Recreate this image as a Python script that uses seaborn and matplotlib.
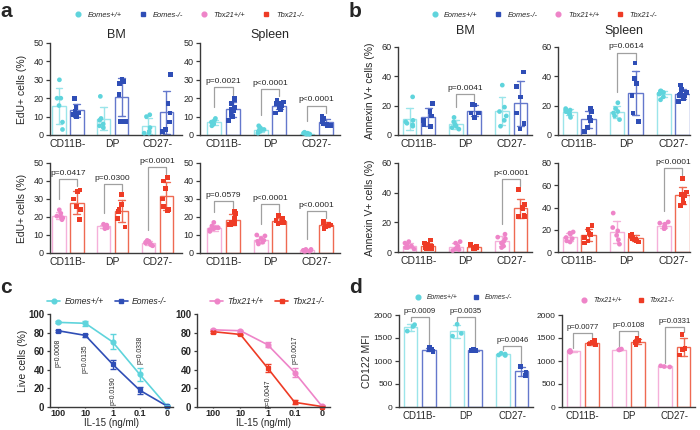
import numpy as np
import pandas as pd

import matplotlib
matplotlib.use('Agg')
import matplotlib.pyplot as plt
from matplotlib.lines import Line2D

import seaborn as sns

sns.set_style('ticks')
plt.rcParams['font.family'] = ['Liberation Sans', 'DejaVu Sans']
np.random.seed(3)

pops = ['CD11B-', 'DP', 'CD27-']
eomes = ['Eomes+/+', 'Eomes-/-']
tbx21 = ['Tbx21+/+', 'Tbx21-/-']

# a: EdU+ cells (%) per mouse
edu_bm_eomes_wt = [[30, 20, 20, 16, 7, 3], [21, 9, 8, 6, 5, 4], [11, 10, 4, 2, 1, 1]]
edu_bm_eomes_ko = [[20, 15, 13, 12, 10, 11], [30, 29, 28, 22, 7.5, 7.5], [33, 17, 12, 7, 3, 2]]
edu_sp_eomes_wt = [[9, 8, 7, 7, 6, 6, 5], [5, 4, 3, 3, 2, 2, 2, 1], [1.5, 1, 1, 0.5, 0.5, 0.5, 0.5]]
edu_sp_eomes_ko = [[20, 19, 17, 15, 14, 13, 11, 10, 8], [19, 18, 17, 17, 16, 16, 15, 14, 12],
                   [10, 9, 8, 7, 7, 6, 6, 5, 5]]
edu_bm_tbx_wt = [[24, 22, 20.5, 19.5, 18.5, 20], [16, 15.5, 15, 14.5, 14, 13.5], [7, 6.5, 6, 5.5, 5, 4.5, 4]]
edu_bm_tbx_ko = [[35, 34, 30, 26, 24, 18.5], [32.5, 27, 24, 23, 19, 14.5], [42, 40, 36, 30, 26, 24, 23.5]]
edu_sp_tbx_wt = [[17, 15, 14, 14, 13.5, 13, 12], [10, 9.5, 8, 7, 6.5, 5, 6], [2, 2, 1.5, 1.5, 1, 1, 1]]
edu_sp_tbx_ko = [[23, 22, 19, 17, 16.5, 16, 16], [21, 19, 18, 17.5, 17, 17, 16.5],
                 [17.5, 17, 16, 15.5, 15, 14.5, 13.5]]
p_edu_bm_eomes = [None, None, None]
p_edu_sp_eomes = ['p=0.0021', 'p<0.0001', 'p<0.0001']
p_edu_bm_tbx = ['p=0.0417', 'p=0.0300', 'p<0.0001']
p_edu_sp_tbx = ['p=0.0579', 'p<0.0001', 'p<0.0001']

# b: Annexin V+ cells (%) per mouse
ann_bm_eomes_wt = [[26, 10, 9, 8, 7, 6], [12, 9, 7, 6, 5, 4], [34, 19, 16, 13, 10, 6]]
ann_bm_eomes_ko = [[21.5, 16, 13, 10, 7, 6], [21, 20.5, 15, 15, 12], [43, 33, 26, 15, 8, 4]]
ann_sp_eomes_wt = [[18, 17, 17, 16, 16, 15, 14, 12], [22, 18, 16, 15, 13, 10.5], [30, 30, 29, 29, 28, 28, 26, 24]]
ann_sp_eomes_ko = [[18, 16, 12, 10, 5, 2.5], [49, 38.5, 35, 27, 15, 9], [34, 31, 29, 28, 27, 27, 26, 25, 23]]
ann_bm_tbx_wt = [[7, 6, 5, 4, 3, 3, 2], [7, 6, 4, 3, 2, 1.5, 1], [12, 10, 9, 7, 6, 4, 3]]
ann_bm_tbx_ko = [[8, 6, 5, 4, 4, 3, 3, 2, 2], [5, 4, 3, 3, 2.5, 2, 2], [42, 32, 30, 29, 25, 24, 24]]
ann_sp_tbx_wt = [[18, 17, 16, 13, 12, 10, 9], [35, 22, 19, 15, 11, 7], [27, 26, 25, 23, 22, 21, 21]]
ann_sp_tbx_ko = [[24, 20, 17, 16, 13, 10, 8], [16, 15, 13, 12, 11, 10, 9], [66, 54, 52, 51, 47, 44, 42]]
p_ann_bm_eomes = [None, 'p=0.0041', None]
p_ann_sp_eomes = [None, 'p=0.0614', None]
p_ann_bm_tbx = [None, None, 'p<0.0001']
p_ann_sp_tbx = [None, None, 'p<0.0001']

# c: live cells (%) vs IL-15, mean and error
il15 = ['100', '10', '1', '0.1', '0']
live_eomes_wt = [91, 90, 70, 35, 1]
err_eomes_wt = [1, 3, 8, 7, 1]
live_eomes_ko = [82, 77, 46, 18, 1]
err_eomes_ko = [1, 2, 5, 4, 0.5]
live_tbx_wt = [83, 82, 67, 37, 1]
err_tbx_wt = [1, 1, 3, 5, 1]
live_tbx_ko = [81, 78, 42, 5, 0.5]
err_tbx_ko = [1, 1, 4, 2, 0.5]
p_live_eomes = ['p=0.0008', 'p=0.0135', 'p=0.0190', 'p=0.0338', None]
p_live_tbx = [None, None, 'p=0.0047', 'p=0.0017', None]

# d: CD122 MFI per mouse
cd122_eomes_wt = [[1790, 1750, 1650], [1800, 1600, 1540], [1170, 1150, 1130, 1120]]
cd122_eomes_ko = [[1290, 1260, 1240, 1210], [1250, 1240, 1230, 1220], [880, 760, 680]]
cd122_tbx_wt = [[1230, 1210, 1190, 1200], [1260, 1250, 1245, 1240], [895, 880, 870]]
cd122_tbx_ko = [[1440, 1400, 1370, 1350], [1490, 1440, 1400, 1360], [1580, 1250, 1130, 1270]]
p_cd122_eomes = ['p=0.0009', 'p=0.0035', 'p=0.0046']
p_cd122_tbx = ['p=0.0077', 'p=0.0108', 'p=0.0331']

pt_colors = {'Eomes+/+': '#5fd4dc', 'Eomes-/-': '#2f4eb6', 'Tbx21+/+': '#ee84c8', 'Tbx21-/-': '#ee3b25'}
bar_colors = {'Eomes+/+': '#9be5ea', 'Eomes-/-': '#6478cc', 'Tbx21+/+': '#f5b0da', 'Tbx21-/-': '#ef6a52'}
bracket_col = '#a0a0a0'
spine_col = '#3a3a3a'

W, H = 700, 430
fig = plt.figure(figsize=(7, 4.3), dpi=100)


def px_axes(x0, y0, x1, y1):
    return fig.add_axes([x0 / W, 1 - y1 / H, (x1 - x0) / W, (y1 - y0) / H])


def style_spines(ax):
    sns.despine(ax=ax)
    for s in ['left', 'bottom']:
        ax.spines[s].set_color(spine_col)
        ax.spines[s].set_linewidth(1.0)


def long_table(wt, ko, genos):
    rows = []
    for g, groups in zip(genos, (wt, ko)):
        for pop, vals in zip(pops, groups):
            for v in vals:
                rows.append((pop, g, v))
    return pd.DataFrame(rows, columns=['pop', 'geno', 'val'])


def bar_panel(box, wt, ko, genos, ymax, step, pvals, pads, xlim=(-0.45, 2.45),
              ylabel=None, title=None, tpad=4, xfs=7.5, yfs=6.5, pfs=6, lab_dx=23):
    ax = px_axes(*box)
    df = long_table(wt, ko, genos)
    sns.barplot(data=df, x='pop', y='val', hue='geno', order=pops, hue_order=genos,
                palette=bar_colors, fill=False, errorbar='sd', capsize=0.3, width=0.8, gap=0.25,
                linewidth=1.0, err_kws={'linewidth': 1.0}, legend=False, ax=ax)
    for g, m in zip(genos, ['o', 's']):
        sns.stripplot(data=df[df.geno == g], x='pop', y='val', hue='geno', order=pops, hue_order=genos,
                      palette=pt_colors, dodge=True, jitter=0.2, marker=m, size=3.4, linewidth=0,
                      legend=False, zorder=3, clip_on=False, ax=ax)

    lpad, rpad, toppad = [p * ymax for p in pads]
    for i, p in enumerate(pvals):
        if p is None:
            continue
        tops = []
        for vals in (wt[i], ko[i]):
            v = np.asarray(vals, float)
            tops.append(max(v.max(), v.mean() + v.std(ddof=1)))
        left = tops[0] + lpad
        right = tops[1] + rpad
        level = max(left, right) + toppad
        ax.plot([i - 0.2, i - 0.2, i + 0.2, i + 0.2], [left, level, level, right],
                color=bracket_col, lw=0.9, clip_on=False)
        ax.annotate(p, (i, level), xytext=(0, 1.5), textcoords='offset points',
                    ha='center', va='bottom', fontsize=pfs, annotation_clip=False)

    ax.set_xlim(*xlim)
    ax.set_ylim(0, ymax)
    ax.set_yticks(np.arange(0, ymax + 1, step))
    ax.set_xlabel('')
    ax.set_ylabel('')
    style_spines(ax)
    ax.tick_params(axis='x', length=0, labelsize=xfs, pad=3)
    ax.tick_params(axis='y', length=3, width=0.9, color=spine_col, labelsize=yfs, pad=1.5)
    if ylabel:
        ax.set_ylabel(ylabel, fontsize=7.5)
        ax.yaxis.set_label_coords(-lab_dx / (box[2] - box[0]), 0.5)
    if title:
        ax.set_title(title, fontsize=9, pad=tpad)
    return ax


def live_panel(box, wt, wt_err, ko, ko_err, genos, pvals, xlim, ylabel=None):
    ax = px_axes(*box)
    n = len(il15)
    df = pd.DataFrame({'dose': il15 * 2, 'live': wt + ko, 'geno': [genos[0]] * n + [genos[1]] * n})
    sns.pointplot(data=df, x='dose', y='live', hue='geno', order=il15, hue_order=genos,
                  palette=pt_colors, markers=['o', 's'], linestyles='-', errorbar=None,
                  markersize=3.5, linewidth=1.2, legend=False, ax=ax)
    pos = np.arange(n)
    for g, m, e in zip(genos, (wt, ko), (wt_err, ko_err)):
        ax.errorbar(pos, m, yerr=e, fmt='none', ecolor=pt_colors[g], elinewidth=1,
                    capsize=2.5, capthick=1, clip_on=False)
    for line in ax.lines:
        line.set_clip_on(False)

    for i, p in enumerate(pvals):
        if p is None:
            continue
        low = min(wt[i] - wt_err[i], ko[i] - ko_err[i])
        high = max(wt[i] + wt_err[i], ko[i] + ko_err[i])
        if low - 8 - 28 >= 0:
            ax.text(i, low - 8, p, rotation=90, ha='center', va='top', fontsize=4.9)
        else:
            ax.text(i, high + 4, p, rotation=90, ha='center', va='bottom', fontsize=4.9)

    ax.set_xlim(*xlim)
    ax.set_ylim(0, 100)
    ax.set_yticks(np.arange(0, 101, 20))
    ax.set_ylabel('')
    style_spines(ax)
    ax.tick_params(axis='x', length=1, width=0.9, color=spine_col, labelsize=6.5, pad=0.5)
    ax.tick_params(axis='y', length=2.5, width=0.9, color=spine_col, labelsize=7, pad=1.5)
    for lab in ax.get_xticklabels() + ax.get_yticklabels():
        lab.set_fontweight('bold')
    ax.set_xlabel('IL-15 (ng/ml)', fontsize=7)
    ax.xaxis.set_label_coords(0.5, -0.118)
    if ylabel:
        ax.set_ylabel(ylabel, fontsize=7.5)
        ax.yaxis.set_label_coords(-22 / (box[2] - box[0]), 0.5)
    return ax


ab_pads = (0.12, 0.04, 0.08)
d_pads = (0.03, 0.03, 0.05)

# a
bar_panel((50, 43, 182, 135), edu_bm_eomes_wt, edu_bm_eomes_ko, eomes, 50, 10, p_edu_bm_eomes, ab_pads,
          xlim=(-0.4, 2.55), ylabel='EdU+ cells (%)', title='BM', tpad=3.8)
bar_panel((200, 43, 340, 135), edu_sp_eomes_wt, edu_sp_eomes_ko, eomes, 50, 10, p_edu_sp_eomes, ab_pads,
          xlim=(-0.5, 2.5), title='Spleen', tpad=3.8)
bar_panel((50, 163, 182, 253), edu_bm_tbx_wt, edu_bm_tbx_ko, tbx21, 50, 10, p_edu_bm_tbx, ab_pads,
          xlim=(-0.4, 2.55), ylabel='EdU+ cells (%)')
bar_panel((200, 163, 340, 253), edu_sp_tbx_wt, edu_sp_tbx_ko, tbx21, 50, 10, p_edu_sp_tbx, ab_pads,
          xlim=(-0.5, 2.5))

# b
bar_panel((398, 47, 532, 135), ann_bm_eomes_wt, ann_bm_eomes_ko, eomes, 60, 20, p_ann_bm_eomes, ab_pads,
          ylabel='Annexin V+ cells (%)', title='BM', tpad=9.5)
bar_panel((558, 47, 690, 135), ann_sp_eomes_wt, ann_sp_eomes_ko, eomes, 60, 20, p_ann_sp_eomes, ab_pads,
          xlim=(-0.45, 2.36), title='Spleen', tpad=9.5)
bar_panel((398, 163, 532, 252), ann_bm_tbx_wt, ann_bm_tbx_ko, tbx21, 60, 20, p_ann_bm_tbx, ab_pads,
          ylabel='Annexin V+ cells (%)')
bar_panel((558, 163, 690, 252), ann_sp_tbx_wt, ann_sp_tbx_ko, tbx21, 80, 20, p_ann_sp_tbx, ab_pads,
          xlim=(-0.45, 2.36))

# c
live_panel((50, 314, 173, 407), live_eomes_wt, err_eomes_wt, live_eomes_ko, err_eomes_ko, eomes,
           p_live_eomes, (-0.3, 4.22), ylabel='Live cells (%)')
live_panel((197, 314, 330, 407), live_tbx_wt, err_tbx_wt, live_tbx_ko, err_tbx_ko, tbx21,
           p_live_tbx, (-0.6, 4.3))

# d
bar_panel((399, 315, 533, 407), cd122_eomes_wt, cd122_eomes_ko, eomes, 2000, 500, p_cd122_eomes, d_pads,
          ylabel='CD122 MFI', xfs=7, yfs=6, pfs=5.6, lab_dx=27)
bar_panel((562, 315, 695, 407), cd122_tbx_wt, cd122_tbx_ko, tbx21, 2000, 500, p_cd122_tbx, d_pads,
          xfs=7, yfs=6, pfs=5.6)


def handles(genos, line=False):
    return [Line2D([], [], color=pt_colors[g], marker=m, ms=3.4, ls='-' if line else 'none', lw=1.2)
            for g, m in zip(genos, ['o', 's'])]


marker_kw = dict(loc='center', frameon=False, handlelength=1, handletextpad=0.8, columnspacing=2.3,
                 borderpad=0, borderaxespad=0)
fig.legend(handles(eomes) + handles(tbx21), eomes + tbx21, ncol=4, bbox_to_anchor=(0.27, 0.965),
           prop={'style': 'italic', 'size': 5.4}, **marker_kw)
fig.legend(handles(eomes) + handles(tbx21), eomes + tbx21, ncol=4, bbox_to_anchor=(0.777, 0.965),
           prop={'style': 'italic', 'size': 5.3}, **marker_kw)
line_kw = dict(loc='center', frameon=False, handlelength=1.5, handletextpad=0.5, columnspacing=1.3,
               borderpad=0, borderaxespad=0, prop={'style': 'italic', 'size': 6.2})
fig.legend(handles(eomes, True), eomes, ncol=2, bbox_to_anchor=(0.153, 0.298), **line_kw)
fig.legend(handles(tbx21, True), tbx21, ncol=2, bbox_to_anchor=(0.382, 0.298), **line_kw)
fig.legend(handles(eomes), eomes, ncol=2, bbox_to_anchor=(0.662, 0.307),
           prop={'style': 'italic', 'size': 4.9}, **marker_kw)
fig.legend(handles(tbx21), tbx21, ncol=2, bbox_to_anchor=(0.897, 0.300),
           prop={'style': 'italic', 'size': 4.9}, **marker_kw)

for letter, x, y in [('a', 0, 17), ('b', 349, 17), ('c', 0, 293), ('d', 349, 293)]:
    fig.text(x / W, 1 - y / H, letter, fontsize=15, fontweight='bold', va='baseline', ha='left')

plt.savefig('out.png', dpi=100)
plt.close()
